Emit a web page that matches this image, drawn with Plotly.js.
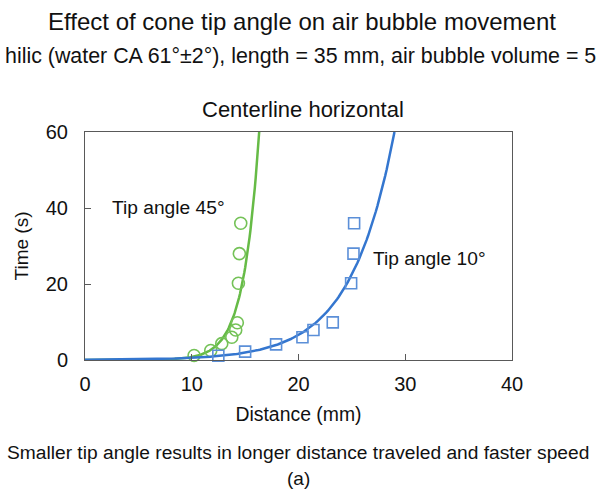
<!DOCTYPE html>
<html>
<head>
<meta charset="utf-8">
<script src="https://cdn.plot.ly/plotly-3.0.1.min.js"></script>
<style>
html,body{margin:0;padding:0;background:#fff;}
#chart{width:600px;height:492px;}
</style>
</head>
<body>
<div id="chart"></div>
<script>
// Data
const dist45 = [10.22, 11.78, 12.81, 13.75, 14.12, 14.27, 14.37, 14.46, 14.59];
const time45 = [1.2, 2.5, 4.3, 6.0, 7.9, 9.8, 20.2, 28.0, 36.0];
const dist10 = [12.49, 15.0, 17.9, 20.37, 21.4, 23.21, 24.93, 25.15, 25.21];
const time10 = [1.1, 2.2, 4.1, 6.0, 7.9, 9.9, 20.2, 28.0, 36.0];
const xTicks = [0, 10, 20, 30, 40];
const yTicks = [0, 20, 40, 60];

// Exponential trendline (least squares on ln y), as a spreadsheet trendline does
function expFit(xs, ys) {
  const n = xs.length;
  const ly = ys.map(v => Math.log(v));
  const mx = xs.reduce((a, b) => a + b, 0) / n;
  const my = ly.reduce((a, b) => a + b, 0) / n;
  let sxy = 0, sxx = 0;
  for (let i = 0; i < n; i++) { sxy += (xs[i] - mx) * (ly[i] - my); sxx += (xs[i] - mx) ** 2; }
  const b = sxy / sxx;
  const lna = my - b * mx;
  return {b: b, lna: lna};
}
function trend(fit, yMax) {
  const xEnd = (Math.log(yMax) - fit.lna) / fit.b;
  const xs = [], ys = [];
  const N = 200;
  for (let i = 0; i <= N; i++) {
    const x = xEnd * i / N;
    xs.push(x);
    ys.push(Math.exp(fit.lna + fit.b * x));
  }
  return {x: xs, y: ys};
}
const t45 = trend(expFit(dist45, time45), 60);
const t10 = trend(expFit(dist10, time10), 60);

const green = '#66BB46';
const greenM = '#74C257';
const blue = '#3476CF';
const blueM = '#5B8FD8';
const axisCol = '#595959';
const txt = '#111';
const font = 'Liberation Sans, Arial, sans-serif';

const traces = [
  {x: t45.x, y: t45.y, mode: 'lines', line: {color: green, width: 2.5}, hoverinfo: 'skip'},
  {x: dist45, y: time45, mode: 'markers', cliponaxis: false,
   marker: {symbol: 'circle-open', size: 12, color: greenM, line: {width: 1.6, color: greenM}}},
  {x: t10.x, y: t10.y, mode: 'lines', line: {color: blue, width: 2.5}, hoverinfo: 'skip'},
  {x: dist10, y: time10, mode: 'markers', cliponaxis: false,
   marker: {symbol: 'square-open', size: 11, color: blueM, line: {width: 1.6, color: blueM}}}
];

const layout = {
  width: 600, height: 492,
  margin: {l: 85, r: 88, t: 132, b: 132},
  paper_bgcolor: '#fff', plot_bgcolor: '#fff',
  showlegend: false,
  font: {family: font, color: txt, size: 18},
  title: {text: 'Effect of cone tip angle on air bubble movement', x: 302 / 600, xref: 'container', xanchor: 'center',
          y: 1 - 22 / 492, yref: 'container', yanchor: 'middle', font: {size: 24, color: txt}},
  xaxis: {range: [0, 40], tickvals: xTicks, ticktext: xTicks.map(String), showgrid: false, zeroline: false,
          showline: true, linecolor: axisCol, linewidth: 1, mirror: true,
          ticks: 'inside', ticklen: 6, tickcolor: axisCol, tickfont: {size: 20, color: txt},
          ticklabelstandoff: 6,
          title: {text: 'Distance (mm)', font: {size: 19.4, color: txt}, standoff: 13}},
  yaxis: {range: [0, 60], tickvals: yTicks, ticktext: yTicks.map(String), showgrid: false, zeroline: false,
          showline: true, linecolor: axisCol, linewidth: 1, mirror: true,
          ticks: 'inside', ticklen: 6, tickcolor: axisCol, tickfont: {size: 20, color: txt},
          ticklabelstandoff: 12,
          title: {text: 'Time (s)', font: {size: 19, color: txt}, standoff: 12}},
  annotations: [
    {text: 'hilic (water CA 61°±2°), length = 35 mm, air bubble volume = 5', xref: 'paper', yref: 'paper',
     x: (300 - 85) / 427, y: (360 - 56) / 228, xanchor: 'center', yanchor: 'middle', showarrow: false,
     font: {size: 21.4, color: txt}},
    {text: 'Centerline horizontal', xref: 'paper', yref: 'paper', x: (303 - 85) / 427, y: (360 - 109) / 228,
     xanchor: 'center', yanchor: 'middle', showarrow: false, font: {size: 22, color: txt}},
    {text: 'Tip angle 45°', xref: 'x', yref: 'y', x: 2.3, y: 40.1, xanchor: 'left', yanchor: 'middle',
     showarrow: false, font: {size: 19.2, color: txt}},
    {text: 'Tip angle 10°', xref: 'x', yref: 'y', x: 26.75, y: 26.8, xanchor: 'left', yanchor: 'middle',
     showarrow: false, font: {size: 19.2, color: txt}},
    {text: 'Smaller tip angle results in longer distance traveled and faster speed', xref: 'paper', yref: 'paper',
     x: (298 - 85) / 427, y: (360 - 452) / 228, xanchor: 'center', yanchor: 'middle', showarrow: false,
     font: {size: 19.2, color: txt}},
    {text: '(a)', xref: 'paper', yref: 'paper', x: (298 - 85) / 427, y: (360 - 478) / 228,
     xanchor: 'center', yanchor: 'middle', showarrow: false, font: {size: 19, color: txt}}
  ]
};

Plotly.newPlot('chart', traces, layout, {staticPlot: true, displayModeBar: false});
</script>
</body>
</html>
